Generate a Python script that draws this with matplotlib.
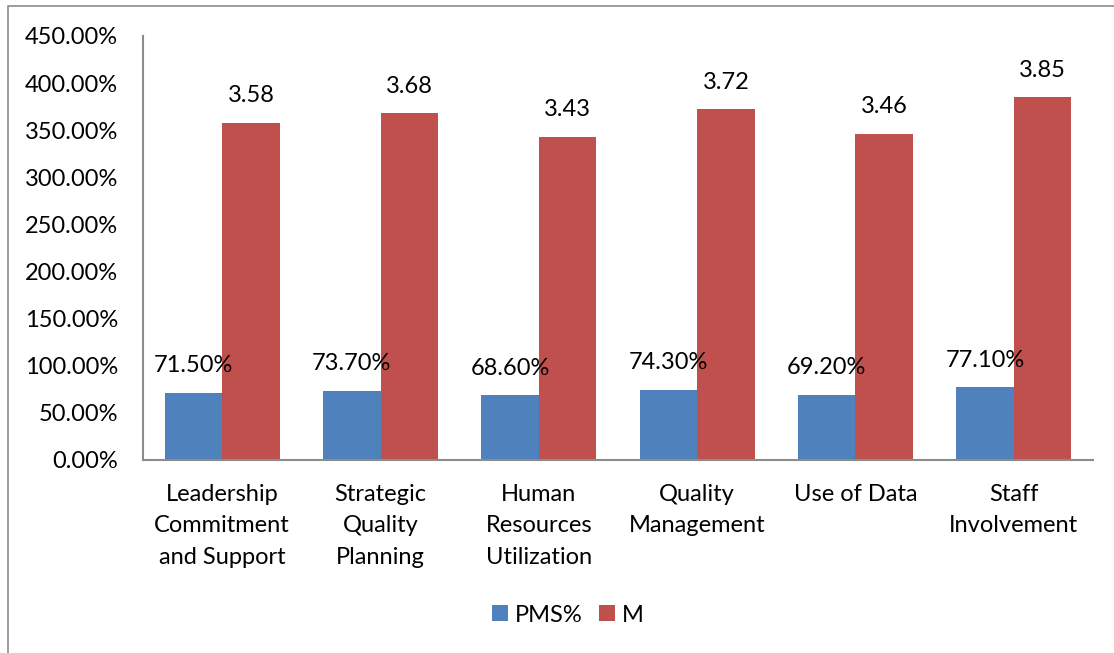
import numpy as np
import matplotlib
matplotlib.use('Agg')
import matplotlib.pyplot as plt
from matplotlib.patches import Rectangle

categories = ['Leadership\nCommitment\nand Support', 'Strategic\nQuality\nPlanning',
              'Human\nResources\nUtilization', 'Quality\nManagement', 'Use of Data',
              'Staff\nInvolvement']
pms = [0.715, 0.737, 0.686, 0.743, 0.692, 0.771]
m = [3.58, 3.68, 3.43, 3.72, 3.46, 3.85]
yticks = [0, 0.5, 1.0, 1.5, 2.0, 2.5, 3.0, 3.5, 4.0, 4.5]

plt.rcParams['font.family'] = ['Lato', 'DejaVu Sans']
fs = 17

fig = plt.figure(figsize=(11.14, 6.53), dpi=100)
ax = fig.add_axes([143/1114, 1-460/653, (1093-143)/1114, (460-36)/653])

# outer chart frame (only left and top edges visible)
fig.patches.append(Rectangle((8/1114, -0.1), 1.2, 1-6/653+0.1, transform=fig.transFigure,
                             fill=False, edgecolor='#8c8c8c', lw=1.2))

x = np.arange(len(categories))
w = 0.363
b1 = ax.bar(x - w/2, pms, w, color='#4F81BD', label='PMS%')
b2 = ax.bar(x + w/2, m, w, color='#C0504D', label='M')

for xi, v in zip(x, pms):
    ax.annotate(f'{v*100:.2f}%', (xi - w/2, v), xytext=(0, 19.5), textcoords='offset points',
                ha='center', va='center', fontsize=fs)
for xi, v in zip(x, m):
    ax.annotate(f'{v:.2f}', (xi + w/2, v), xytext=(0, 19.5), textcoords='offset points',
                ha='center', va='center', fontsize=fs)

ax.set_xlim(-0.5, len(categories) - 0.5)
ax.set_ylim(0, 4.5)
ax.set_yticks(yticks)
ax.set_yticklabels([f'{t*100:.2f}%' for t in yticks], fontsize=fs)
ax.set_xticks(x)
ax.set_xticklabels(categories, fontsize=fs, linespacing=1.62)
ax.tick_params(axis='both', length=0)
ax.tick_params(axis='y', pad=18)
ax.tick_params(axis='x', pad=17)
for s in ['top', 'right']:
    ax.spines[s].set_visible(False)
for s in ['left', 'bottom']:
    ax.spines[s].set_color('#8c8c8c')
    ax.spines[s].set_linewidth(1.5)

fig.legend(handles=[b1, b2], loc='center', bbox_to_anchor=(568/1114, 1-615/653), ncol=2,
           frameon=False, fontsize=fs, handlelength=0.65, handleheight=0.65,
           handletextpad=0.3, columnspacing=0.7)

fig.savefig('out.png', dpi=100)
